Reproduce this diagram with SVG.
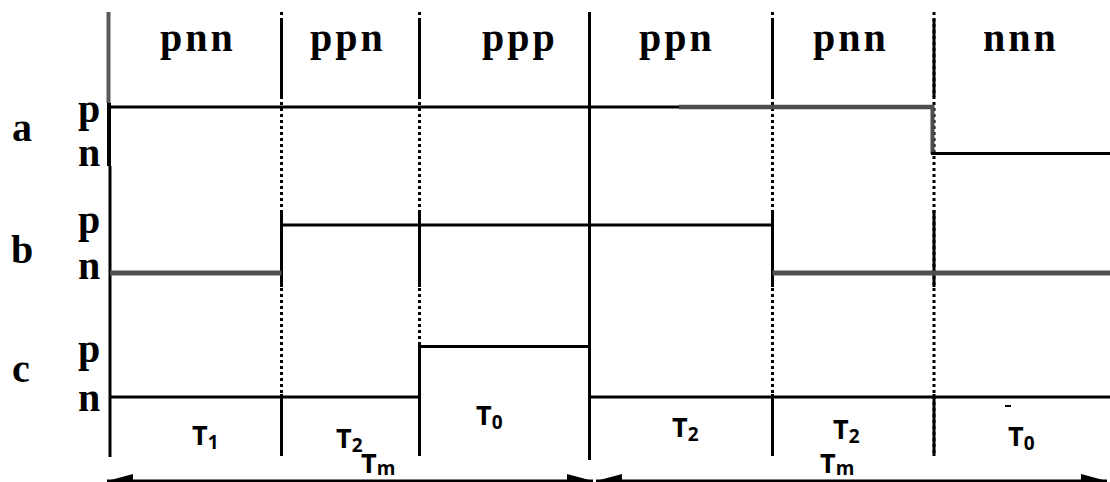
<svg xmlns="http://www.w3.org/2000/svg" width="1110" height="482" viewBox="0 0 1110 482">
<style>
.bg{fill:#fff}
.solid{stroke:#000;stroke-width:3;fill:none}
.dot{stroke:#000;stroke-width:3;stroke-dasharray:3 3;fill:none}
.grey{stroke:#505050;stroke-width:5;fill:none}
.state{font-family:"Liberation Serif","Times New Roman",serif;font-weight:bold;font-size:40px;fill:#000;letter-spacing:3px}
.lvl{font-family:"Liberation Serif","Times New Roman",serif;font-weight:bold;font-size:40px;fill:#000}
.t{font-family:"Open Sans","Liberation Sans",sans-serif;font-weight:700;font-size:27px;fill:#000}
.sub{font-size:19px}
.arrow{stroke:#000;stroke-width:3;fill:none}
</style>
<defs>
<marker id="ah" viewBox="0 0 26 14" refX="26" refY="7" markerWidth="26" markerHeight="14" markerUnits="userSpaceOnUse" orient="auto-start-reverse">
<path d="M0,0 L26,7 L0,14 Z" fill="#000"/>
</marker>
</defs>
<rect class="bg" x="0" y="0" width="1110" height="482"/>

<g id="grid">
<line x1="108.5" y1="12" x2="108.5" y2="103" stroke="#5a5a5a" stroke-width="4"/>
<line x1="109" y1="103" x2="109" y2="166" stroke="#000" stroke-width="4"/>
<line class="solid" x1="110" y1="166" x2="110" y2="457"/>
<g id="grid-281">
<line class="dot" x1="281.5" y1="12" x2="281.5" y2="455"/>
<line class="solid" x1="281.5" y1="19" x2="281.5" y2="97"/>
<line class="solid" x1="281.5" y1="210" x2="281.5" y2="287"/>
<line class="solid" x1="281.5" y1="394" x2="281.5" y2="456"/>
</g>
<g id="grid-419">
<line class="dot" x1="419.5" y1="12" x2="419.5" y2="455"/>
<line class="solid" x1="419.5" y1="19" x2="419.5" y2="97"/>
<line class="solid" x1="419.5" y1="210" x2="419.5" y2="287"/>
<line class="solid" x1="419.5" y1="345" x2="419.5" y2="456"/>
</g>
<line class="solid" x1="589.5" y1="12" x2="589.5" y2="460"/>
<g id="grid-772">
<line class="dot" x1="772.5" y1="12" x2="772.5" y2="455"/>
<line class="solid" x1="772.5" y1="19" x2="772.5" y2="97"/>
<line class="solid" x1="772.5" y1="210" x2="772.5" y2="287"/>
<line class="solid" x1="772.5" y1="394" x2="772.5" y2="456"/>
</g>
<g id="grid-934">
<line class="dot" x1="934" y1="12" x2="934" y2="455"/>
<line class="solid" x1="934" y1="19" x2="934" y2="97"/>
<line class="solid" x1="934" y1="210" x2="934" y2="287"/>
<line class="solid" x1="934" y1="394" x2="934" y2="456"/>
</g>
</g>

<g id="signal-a">
<line class="solid" x1="110" y1="107" x2="680" y2="107"/>
<line x1="679" y1="107" x2="934" y2="107" stroke="#4d4d4d" stroke-width="4.5"/>
<line x1="932.5" y1="105" x2="932.5" y2="154" stroke="#4d4d4d" stroke-width="4"/>
<line class="solid" x1="931" y1="153.5" x2="1110" y2="153.5"/>
</g>

<g id="signal-b">
<line class="grey" x1="110" y1="273" x2="281.5" y2="273"/>
<line class="solid" x1="281.5" y1="225" x2="772.5" y2="225"/>
<line class="grey" x1="772.5" y1="273" x2="1110" y2="273"/>
</g>

<g id="signal-c">
<line class="solid" x1="110" y1="397" x2="419.5" y2="397"/>
<line class="solid" x1="419.5" y1="346.5" x2="589.5" y2="346.5"/>
<line class="solid" x1="589.5" y1="397" x2="1110" y2="397"/>
</g>

<g id="state-labels">
<text class="state" x="160" y="51">pnn</text>
<text class="state" x="310" y="51">ppn</text>
<text class="state" x="482" y="51">ppp</text>
<text class="state" x="639" y="51">ppn</text>
<text class="state" x="813" y="51">pnn</text>
<text class="state" x="983" y="51">nnn</text>
</g>

<g id="signal-labels">
<text class="lvl" x="12" y="141">a</text>
<text class="lvl" x="78" y="122">p</text>
<text class="lvl" x="78" y="166">n</text>
<text class="lvl" x="11" y="263">b</text>
<text class="lvl" x="78" y="233">p</text>
<text class="lvl" x="78" y="279">n</text>
<text class="lvl" x="12" y="382">c</text>
<text class="lvl" x="78" y="362">p</text>
<text class="lvl" x="78" y="411">n</text>
</g>

<g id="time-labels">
<text class="t" x="192" y="445">T<tspan class="sub" dy="4">1</tspan></text>
<text class="t" x="336" y="448">T<tspan class="sub" dy="4">2</tspan></text>
<text class="t" x="476" y="425">T<tspan class="sub" dy="4">0</tspan></text>
<text class="t" x="672" y="437">T<tspan class="sub" dy="4">2</tspan></text>
<text class="t" x="833" y="439">T<tspan class="sub" dy="4">2</tspan></text>
<text class="t" x="1008" y="446">T<tspan class="sub" dy="4">0</tspan></text>
<line x1="1005" y1="406" x2="1011" y2="406" stroke="#000" stroke-width="2"/>
<text class="t" x="361" y="473">T<tspan class="sub" dy="2">m</tspan></text>
<text class="t" x="820" y="473">T<tspan class="sub" dy="2">m</tspan></text>
</g>

<g id="connectors">
<line class="arrow" x1="107" y1="481" x2="593" y2="481" marker-start="url(#ah)" marker-end="url(#ah)"/>
<line class="arrow" x1="596" y1="481" x2="1107" y2="481" marker-start="url(#ah)" marker-end="url(#ah)"/>
</g>
</svg>
